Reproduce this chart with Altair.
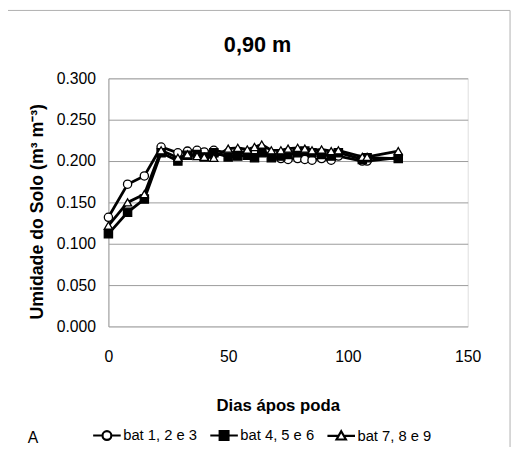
import altair as alt
import pandas as pd

dias = [0, 8, 15, 22, 29, 33, 37, 40, 44, 50, 54, 58, 61, 64, 68, 72, 75, 79, 82, 85, 89, 93, 96, 106, 108, 121]
bat123 = [0.132, 0.172, 0.182, 0.217, 0.210, 0.212, 0.213, 0.211, 0.213, 0.210, 0.211, 0.209, 0.212,
          0.213, 0.207, 0.203, 0.202, 0.203, 0.202, 0.201, 0.203, 0.201, 0.206, 0.200, 0.200, 0.204]
bat456 = [0.112, 0.138, 0.154, 0.210, 0.200, 0.207, 0.208, 0.205, 0.210, 0.205, 0.206, 0.207, 0.204,
          0.210, 0.204, 0.206, 0.208, 0.210, 0.212, 0.210, 0.208, 0.206, 0.210, 0.202, 0.204, 0.203]
bat789 = [0.122, 0.150, 0.160, 0.213, 0.204, 0.208, 0.206, 0.205, 0.204, 0.215, 0.216, 0.214, 0.217,
          0.220, 0.213, 0.213, 0.215, 0.216, 0.215, 0.213, 0.214, 0.212, 0.213, 0.205, 0.205, 0.212]
series = ["bat 1, 2 e 3", "bat 4, 5 e 6", "bat 7, 8 e 9"]
y_ticks = [0.0, 0.05, 0.10, 0.15, 0.20, 0.25, 0.30]
x_ticks = [0, 50, 100, 150]

rows = []
for name, vals in zip(series, [bat123, bat456, bat789]):
    for d, v in zip(dias, vals):
        rows.append({"dia": d, "umidade": v, "serie": name})
df = pd.DataFrame(rows)

FONT = "Liberation Sans"

x_enc = alt.X("dia:Q", scale=alt.Scale(domain=[0, 150], nice=False),
              axis=alt.Axis(values=x_ticks, title="Dias ápos poda", grid=False, domain=False,
                            ticks=False, labelPadding=23, titlePadding=33, labelFlush=False,
                            labelFontSize=16, titleFontSize=17, labelFont=FONT, titleFont=FONT,
                            labelColor="black", titleColor="black", titleFontWeight="bold",
                            titleX=172))
y_enc = alt.Y("umidade:Q", scale=alt.Scale(domain=[0, 0.3], nice=False),
              axis=alt.Axis(values=y_ticks, format=".3f", title="Umidade do Solo (m³ m⁻³)",
                            grid=True, gridColor="#9a9a9a", gridWidth=1,
                            domain=True, domainColor="#9a9a9a", ticks=False,
                            labelPadding=13, titlePadding=10, labelFontSize=16, titleFontSize=18,
                            labelFont=FONT, titleFont=FONT, labelColor="black", titleColor="black",
                            titleFontWeight="bold", titleY=135))

frame = alt.Chart(pd.DataFrame({"k": [0]})).mark_rect(
    fill="transparent", stroke="#b0b0b0", strokeWidth=1
).encode(x=alt.value(-105), x2=alt.value(408), y=alt.value(-69), y2=alt.value(400))

lines = alt.Chart(df).mark_line(color="black", strokeWidth=2.8).encode(
    x=x_enc, y=y_enc, detail="serie:N", order="dia:Q")

points = alt.Chart(df).mark_point(filled=True, stroke="black", strokeWidth=1.3, size=70, opacity=1).encode(
    x=x_enc, y=y_enc,
    shape=alt.Shape("serie:N", scale=alt.Scale(domain=series, range=["circle", "square", "triangle-up"]), legend=None),
    fill=alt.Fill("serie:N", scale=alt.Scale(domain=series, range=["white", "black", "white"]), legend=None),
)

# legend glyphs: line segment + marker (unit = 14 px)
sq_fill = "".join(f"M-0.32,{v}H0.32" for v in ["-0.22", "-0.1", "0.02", "0.14", "0.24"])
paths = [
    "M-1,0H-0.32M0.32,0H1M-0.32,0A0.32,0.32 0 1,0 0.32,0A0.32,0.32 0 1,0 -0.32,0Z",
    "M-1,0H1M-0.32,-0.32H0.32V0.32H-0.32Z" + sq_fill,
    "M-1,0H-0.19M0.19,0H1M0,-0.34L0.34,0.26H-0.34Z",
]
leg = alt.Legend(orient="none", legendX=-82, legendY=347, direction="horizontal",
                 title="A", titleOrient="left", titleFontWeight="normal", titleFontSize=16,
                 titleFont=FONT, titleColor="black", titlePadding=54,
                 titleBaseline="line-top", titleLineHeight=12,
                 labelFontSize=15, labelFont=FONT, labelColor="black", labelOffset=1,
                 columnPadding=8, symbolSize=784, symbolStrokeColor="black",
                 symbolStrokeWidth=2.2, symbolOpacity=1)

legend_layer = alt.Chart(df).mark_point(filled=False, color="black", strokeWidth=2.2, size=784, opacity=1).encode(
    x=x_enc, y=y_enc,
    shape=alt.Shape("serie:N", scale=alt.Scale(domain=series, range=paths), legend=leg),
).transform_filter("false")

chart = alt.layer(frame, lines, points, legend_layer).resolve_scale(
    shape="independent", fill="independent"
).properties(
    width=365, height=252,
    autosize=alt.AutoSizeParams(type="none"),
    padding={"left": 102, "top": 68, "right": 46, "bottom": 119},
    title=alt.TitleParams("0,90 m", fontSize=22, fontWeight="bold", font=FONT, color="black",
                          dx=-31, offset=0, dy=48),
).configure_view(strokeWidth=0).configure(background="white")

chart.save("out.html", embed_options={"renderer": "svg", "actions": False})
